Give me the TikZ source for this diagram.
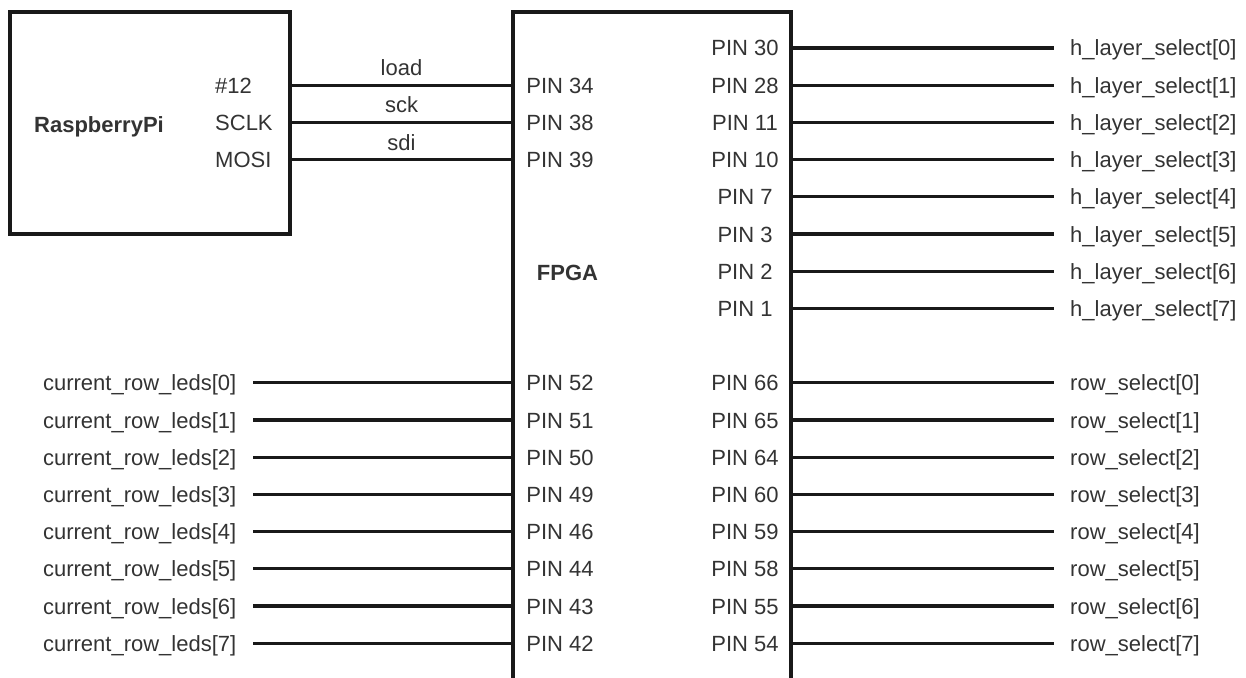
\documentclass[tikz,border=0pt]{standalone}
\usepackage{fontspec}
\setmainfont{Liberation Sans}
\usetikzlibrary{positioning}

\begin{document}
\begin{tikzpicture}[x=1pt, y=-1pt,
  wire/.style={line width=3.2pt, black!90},
  chip/.style={draw=black!90, line width=3.4pt, inner sep=0pt, outer sep=0pt, anchor=north west},
  txt/.style={font=\fontsize{22}{26}\selectfont, text=black!80, inner sep=0pt, text height=16pt, text depth=0pt},
  bold/.style={txt, font=\fontsize{22}{26}\selectfont\bfseries},
  sig/.style={txt, inner xsep=16.5pt}]

% page frame
\useasboundingbox (0,0) rectangle (1246,677);

% boxes
\node[chip, minimum width=280, minimum height=222] (rpi) at (10,12) {};
\node[chip, draw=none, minimum width=278, minimum height=700] (fpga) at (513,12) {};
\draw[wire, line width=3.4pt] (fpga.south west) |- (fpga.north east) -- (fpga.south east);

\node[bold] (rpiname) at (99,124) {RaspberryPi};
\node[bold] (fpganame) at (567.5,272) {FPGA};

% SPI link
\foreach \k/\rp/\fp/\wl in {1/\#12/34/load, 2/SCLK/38/sck, 3/MOSI/39/sdi}
{
  \node[txt, anchor=west] (rp\k) at (215, 48+37.2*\k) {\rp};
  \node[txt] (pl\k) at (560, 48+37.2*\k) {PIN \fp};
  \draw[wire] (rp\k -| rpi.east) -- node[txt, midway, above=8pt] (wl\k) {\wl} (pl\k -| fpga.west);
}

% layer selects
\foreach \k/\fp in {0/30, 1/28, 2/11, 3/10, 4/7, 5/3, 6/2, 7/1}
{
  \node[txt] (pr\k) at (745, 48+37.2*\k) {PIN \fp};
  \node[sig, anchor=west] (hl\k) at (1053.5, 48+37.2*\k) {h\_layer\_select[\k]};
  \draw[wire] (pr\k -| fpga.east) -- (hl\k);
}

% row leds and row selects
\foreach \i/\fl/\fr in {0/52/66, 1/51/65, 2/50/64, 3/49/60, 4/46/59, 5/44/58, 6/43/55, 7/42/54}
{
  \node[sig, anchor=east] (cr\i) at (253, 382.8+37.2*\i) {current\_row\_leds[\i]};
  \node[txt] (pb\i) at (560, 382.8+37.2*\i) {PIN \fl};
  \node[txt] (qb\i) at (745, 382.8+37.2*\i) {PIN \fr};
  \node[sig, anchor=west] (rs\i) at (1053.5, 382.8+37.2*\i) {row\_select[\i]};
  \draw[wire] (cr\i) -- (cr\i -| fpga.west);
  \draw[wire] (qb\i -| fpga.east) -- (rs\i);
}

\end{tikzpicture}
\end{document}
